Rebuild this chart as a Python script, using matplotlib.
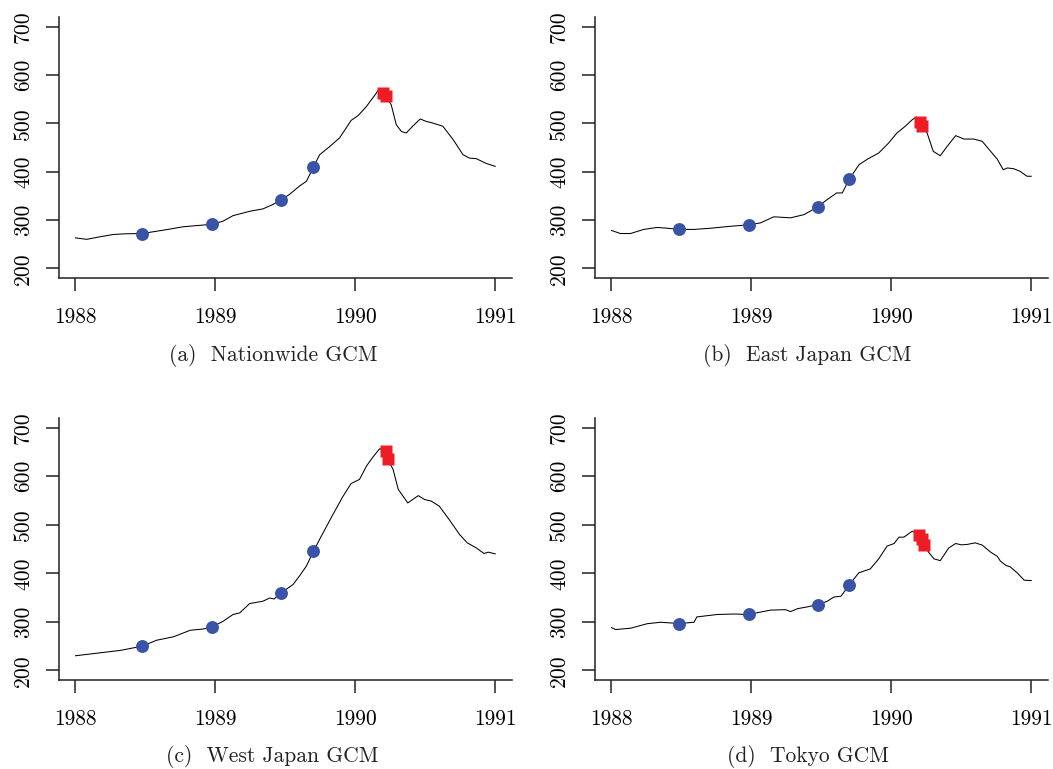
import matplotlib
matplotlib.use("Agg")
import matplotlib.pyplot as plt

plt.rcParams["font.family"] = ["cmr10", "DejaVu Serif"]
plt.rcParams["axes.formatter.use_mathtext"] = True

BLUE = "#3953a6"
RED = "#ee1d25"

# (a) Nationwide GCM
nation_t = [1988.0, 1988.08, 1988.17, 1988.27, 1988.36, 1988.476, 1988.65, 1988.77,
            1988.89, 1988.974, 1989.055, 1989.126, 1989.245, 1989.34, 1989.41, 1989.47,
            1989.53, 1989.60, 1989.65, 1989.70, 1989.745, 1989.817, 1989.888, 1989.97,
            1990.02, 1990.08, 1990.15, 1990.17, 1990.197, 1990.22, 1990.257, 1990.293,
            1990.33, 1990.364, 1990.41, 1990.464, 1990.507, 1990.555, 1990.626, 1990.70,
            1990.77, 1990.817, 1990.864, 1990.936, 1991.0]
nation_v = [263, 260, 265, 270, 271.5, 272, 280, 286, 289, 291, 297.6, 309, 318, 323,
            332, 341.7, 353, 370, 380, 409, 435, 452, 470, 506, 516, 535, 562.5, 571,
            563, 557, 538, 497, 483, 480, 494, 509, 504, 500.5, 494, 466, 435, 428, 427,
            417, 411]
nation_blue_t = [1988.476, 1988.974, 1989.47, 1989.70]
nation_blue_v = [272, 291, 341.7, 409]
nation_red_t = [1990.197, 1990.22]
nation_red_v = [563, 557]

# (b) East Japan GCM
east_t = [1988.0, 1988.064, 1988.136, 1988.23, 1988.326, 1988.40, 1988.48, 1988.59,
          1988.71, 1988.85, 1988.98, 1989.065, 1989.16, 1989.28, 1989.375, 1989.475,
          1989.54, 1989.61, 1989.65, 1989.70, 1989.77, 1989.83, 1989.91, 1989.98,
          1990.04, 1990.10, 1990.15, 1990.18, 1990.205, 1990.221, 1990.256, 1990.30,
          1990.35, 1990.40, 1990.46, 1990.52, 1990.59, 1990.65, 1990.71, 1990.757,
          1990.80, 1990.83, 1990.876, 1990.92, 1990.97, 1991.0]
east_v = [278.4, 272, 272, 280.5, 284.6, 283, 280.5, 280.5, 283, 287, 290, 294, 306.6,
          304.5, 311, 327, 342, 356, 356, 385, 414.6, 426, 438.6, 459, 480, 494, 507.6,
          513, 503, 494.7, 480, 442, 433, 452.6, 474.5, 467.5, 467.5, 462.7, 442, 426,
          404, 407.7, 406, 400.8, 390.5, 390.5]
east_blue_t = [1988.48, 1988.98, 1989.475, 1989.70]
east_blue_v = [280.5, 290, 327, 385]
east_red_t = [1990.205, 1990.221]
east_red_v = [503, 494.7]

# (c) West Japan GCM
west_t = [1988.0, 1988.17, 1988.32, 1988.41, 1988.476, 1988.58, 1988.70, 1988.82,
          1988.91, 1988.974, 1989.055, 1989.126, 1989.174, 1989.245, 1989.34, 1989.388,
          1989.42, 1989.47, 1989.555, 1989.60, 1989.65, 1989.70, 1989.757, 1989.84,
          1989.91, 1989.97, 1990.03, 1990.08, 1990.126, 1990.174, 1990.219, 1990.233,
          1990.27, 1990.307, 1990.375, 1990.45, 1990.495, 1990.543, 1990.60, 1990.67,
          1990.745, 1990.80, 1990.864, 1990.92, 1990.95, 1991.0]
west_v = [230, 235.8, 241, 246, 249.5, 262, 269, 282.5, 285, 289, 301, 315, 318.3,
          337.6, 342.4, 349, 347, 359.6, 376.8, 394, 414.6, 445, 476.5, 521, 557.6,
          585, 593.4, 621, 639.5, 656.7, 652.8, 634.6, 614, 572.8, 545, 560, 552, 548.7,
          538.4, 511, 480, 462.7, 452.4, 440.7, 443.5, 440]
west_blue_t = [1988.476, 1988.974, 1989.47, 1989.70]
west_blue_v = [249.5, 289, 359.6, 445]
west_red_t = [1990.219, 1990.233]
west_red_v = [652.8, 634.6]

# (d) Tokyo GCM
tokyo_t = [1988.0, 1988.03, 1988.136, 1988.255, 1988.35, 1988.42, 1988.48, 1988.59,
           1988.61, 1988.755, 1988.875, 1988.98, 1989.065, 1989.137, 1989.244, 1989.28,
           1989.33, 1989.40, 1989.475, 1989.54, 1989.59, 1989.64, 1989.70, 1989.767,
           1989.85, 1989.91, 1989.97, 1990.02, 1990.055, 1990.09, 1990.15, 1990.20,
           1990.216, 1990.233, 1990.27, 1990.305, 1990.35, 1990.41, 1990.46, 1990.50,
           1990.54, 1990.60, 1990.65, 1990.71, 1990.757, 1990.78, 1990.82, 1990.85,
           1990.90, 1990.95, 1991.0]
tokyo_v = [288, 284, 286.7, 296, 299, 297.7, 296.3, 299, 310, 315, 316, 315, 320, 324,
           325, 321, 327, 330.7, 335.5, 342, 351, 352.7, 376, 400.8, 409, 429.7, 456,
           461.3, 474.4, 474.4, 486.8, 478.4, 469.6, 459.2, 442, 429.7, 426, 452, 461.3,
           458.6, 459.3, 462.7, 458, 443.5, 435, 425, 416, 413.2, 400.8, 385.7, 385]
tokyo_blue_t = [1988.48, 1988.98, 1989.475, 1989.70]
tokyo_blue_v = [296.3, 315, 335.5, 376]
tokyo_red_t = [1990.20, 1990.216, 1990.233]
tokyo_red_v = [478.4, 469.6, 459.2]

captions = ["(a)  Nationwide GCM", "(b)  East Japan GCM",
            "(c)  West Japan GCM", "(d)  Tokyo GCM"]
year_ticks = [1988, 1989, 1990, 1991]
value_ticks = [200, 300, 400, 500, 600, 700]


def draw_panel(ax, t, v, blue_t, blue_v, red_t, red_v):
    ax.plot(t, v, color="black", lw=0.75, zorder=2)
    ax.plot(blue_t, blue_v, "o", color=BLUE, ms=9.3, mec="none", zorder=3)
    ax.plot(red_t, red_v, "s", color=RED, ms=9, mec="none", zorder=4)

    ax.set_xlim(1987.88, 1991.12)
    ax.set_ylim(180, 720)
    ax.spines["top"].set_visible(False)
    ax.spines["right"].set_visible(False)
    for side in ("left", "bottom"):
        ax.spines[side].set_linewidth(1.1)
        ax.spines[side].set_color("#222222")

    ax.set_xticks(year_ticks)
    ax.set_xticklabels([str(y) for y in year_ticks])
    ax.set_yticks(value_ticks)
    ax.set_yticklabels([str(y) for y in value_ticks], rotation=90, va="center")
    ax.tick_params(axis="both", direction="out", length=9.5, width=1.1,
                   color="#222222", labelsize=15.5)
    ax.tick_params(axis="x", pad=11.5)
    ax.tick_params(axis="y", pad=9)


fig = plt.figure(figsize=(10.53, 7.69), dpi=100)

panels = [
    (nation_t, nation_v, nation_blue_t, nation_blue_v, nation_red_t, nation_red_v),
    (east_t, east_v, east_blue_t, east_blue_v, east_red_t, east_red_v),
    (west_t, west_v, west_blue_t, west_blue_v, west_red_t, west_red_v),
    (tokyo_t, tokyo_v, tokyo_blue_t, tokyo_blue_v, tokyo_red_t, tokyo_red_v),
]
# axes boxes in pixels: left, top, right, bottom
boxes = [(58.7, 17, 512, 278), (594.7, 17, 1048, 278),
         (58.7, 418, 512, 680), (594.7, 418, 1048, 680)]
caption_xy = [(273, 355), (807, 355), (272, 757), (808, 757)]

W, H = 1053, 769
for data, box, cap, cxy in zip(panels, boxes, captions, caption_xy):
    l, t, r, b = box
    ax = fig.add_axes([l / W, 1 - b / H, (r - l) / W, (b - t) / H])
    draw_panel(ax, *data)
    fig.text(cxy[0] / W, 1 - cxy[1] / H, cap, ha="center", va="center",
             fontsize=15.5, color="#222222")

fig.savefig("out.png", dpi=100)
